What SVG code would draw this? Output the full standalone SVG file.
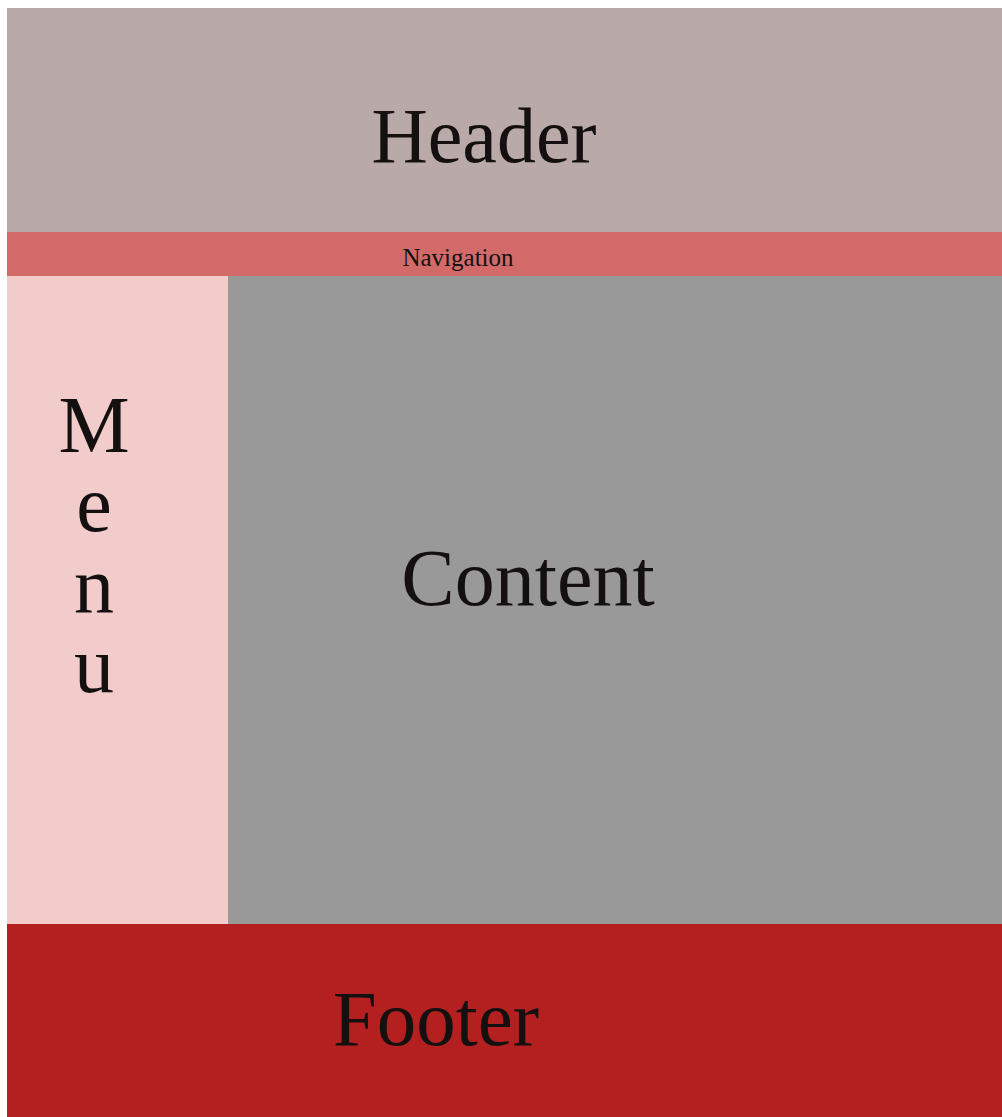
<svg xmlns="http://www.w3.org/2000/svg" width="1002" height="1117" viewBox="0 0 1002 1117">
<style>
.t{font-family:"Liberation Serif","Times New Roman",serif;fill:#141010;text-anchor:middle}
.m{font-size:80px}
</style>
<rect x="0" y="0" width="1002" height="1117" fill="#ffffff"/>
<g id="header"><rect x="7" y="8" width="995" height="224" fill="#b9a9a9"/><text class="t" x="484" y="162" font-size="78">Header</text></g>
<g id="navigation"><rect x="7" y="232" width="995" height="44" fill="#d36a6a"/><text class="t" x="458" y="266" font-size="25" fill="#401414">Navigation</text></g>
<g id="menu"><rect x="7" y="276" width="221" height="648" fill="#f2cbcb"/>
<text class="t m" x="94" y="452">M</text>
<text class="t m" x="94" y="531">e</text>
<text class="t m" x="94" y="612">n</text>
<text class="t m" x="94" y="692">u</text></g>
<g id="content"><rect x="228" y="276" width="774" height="648" fill="#999999"/><text class="t" x="528" y="605" font-size="80">Content</text></g>
<g id="footer"><rect x="7" y="924" width="995" height="193" fill="#b42020"/><text class="t" x="436" y="1045" font-size="79">Footer</text></g>
<g id="connectors"/>
</svg>
